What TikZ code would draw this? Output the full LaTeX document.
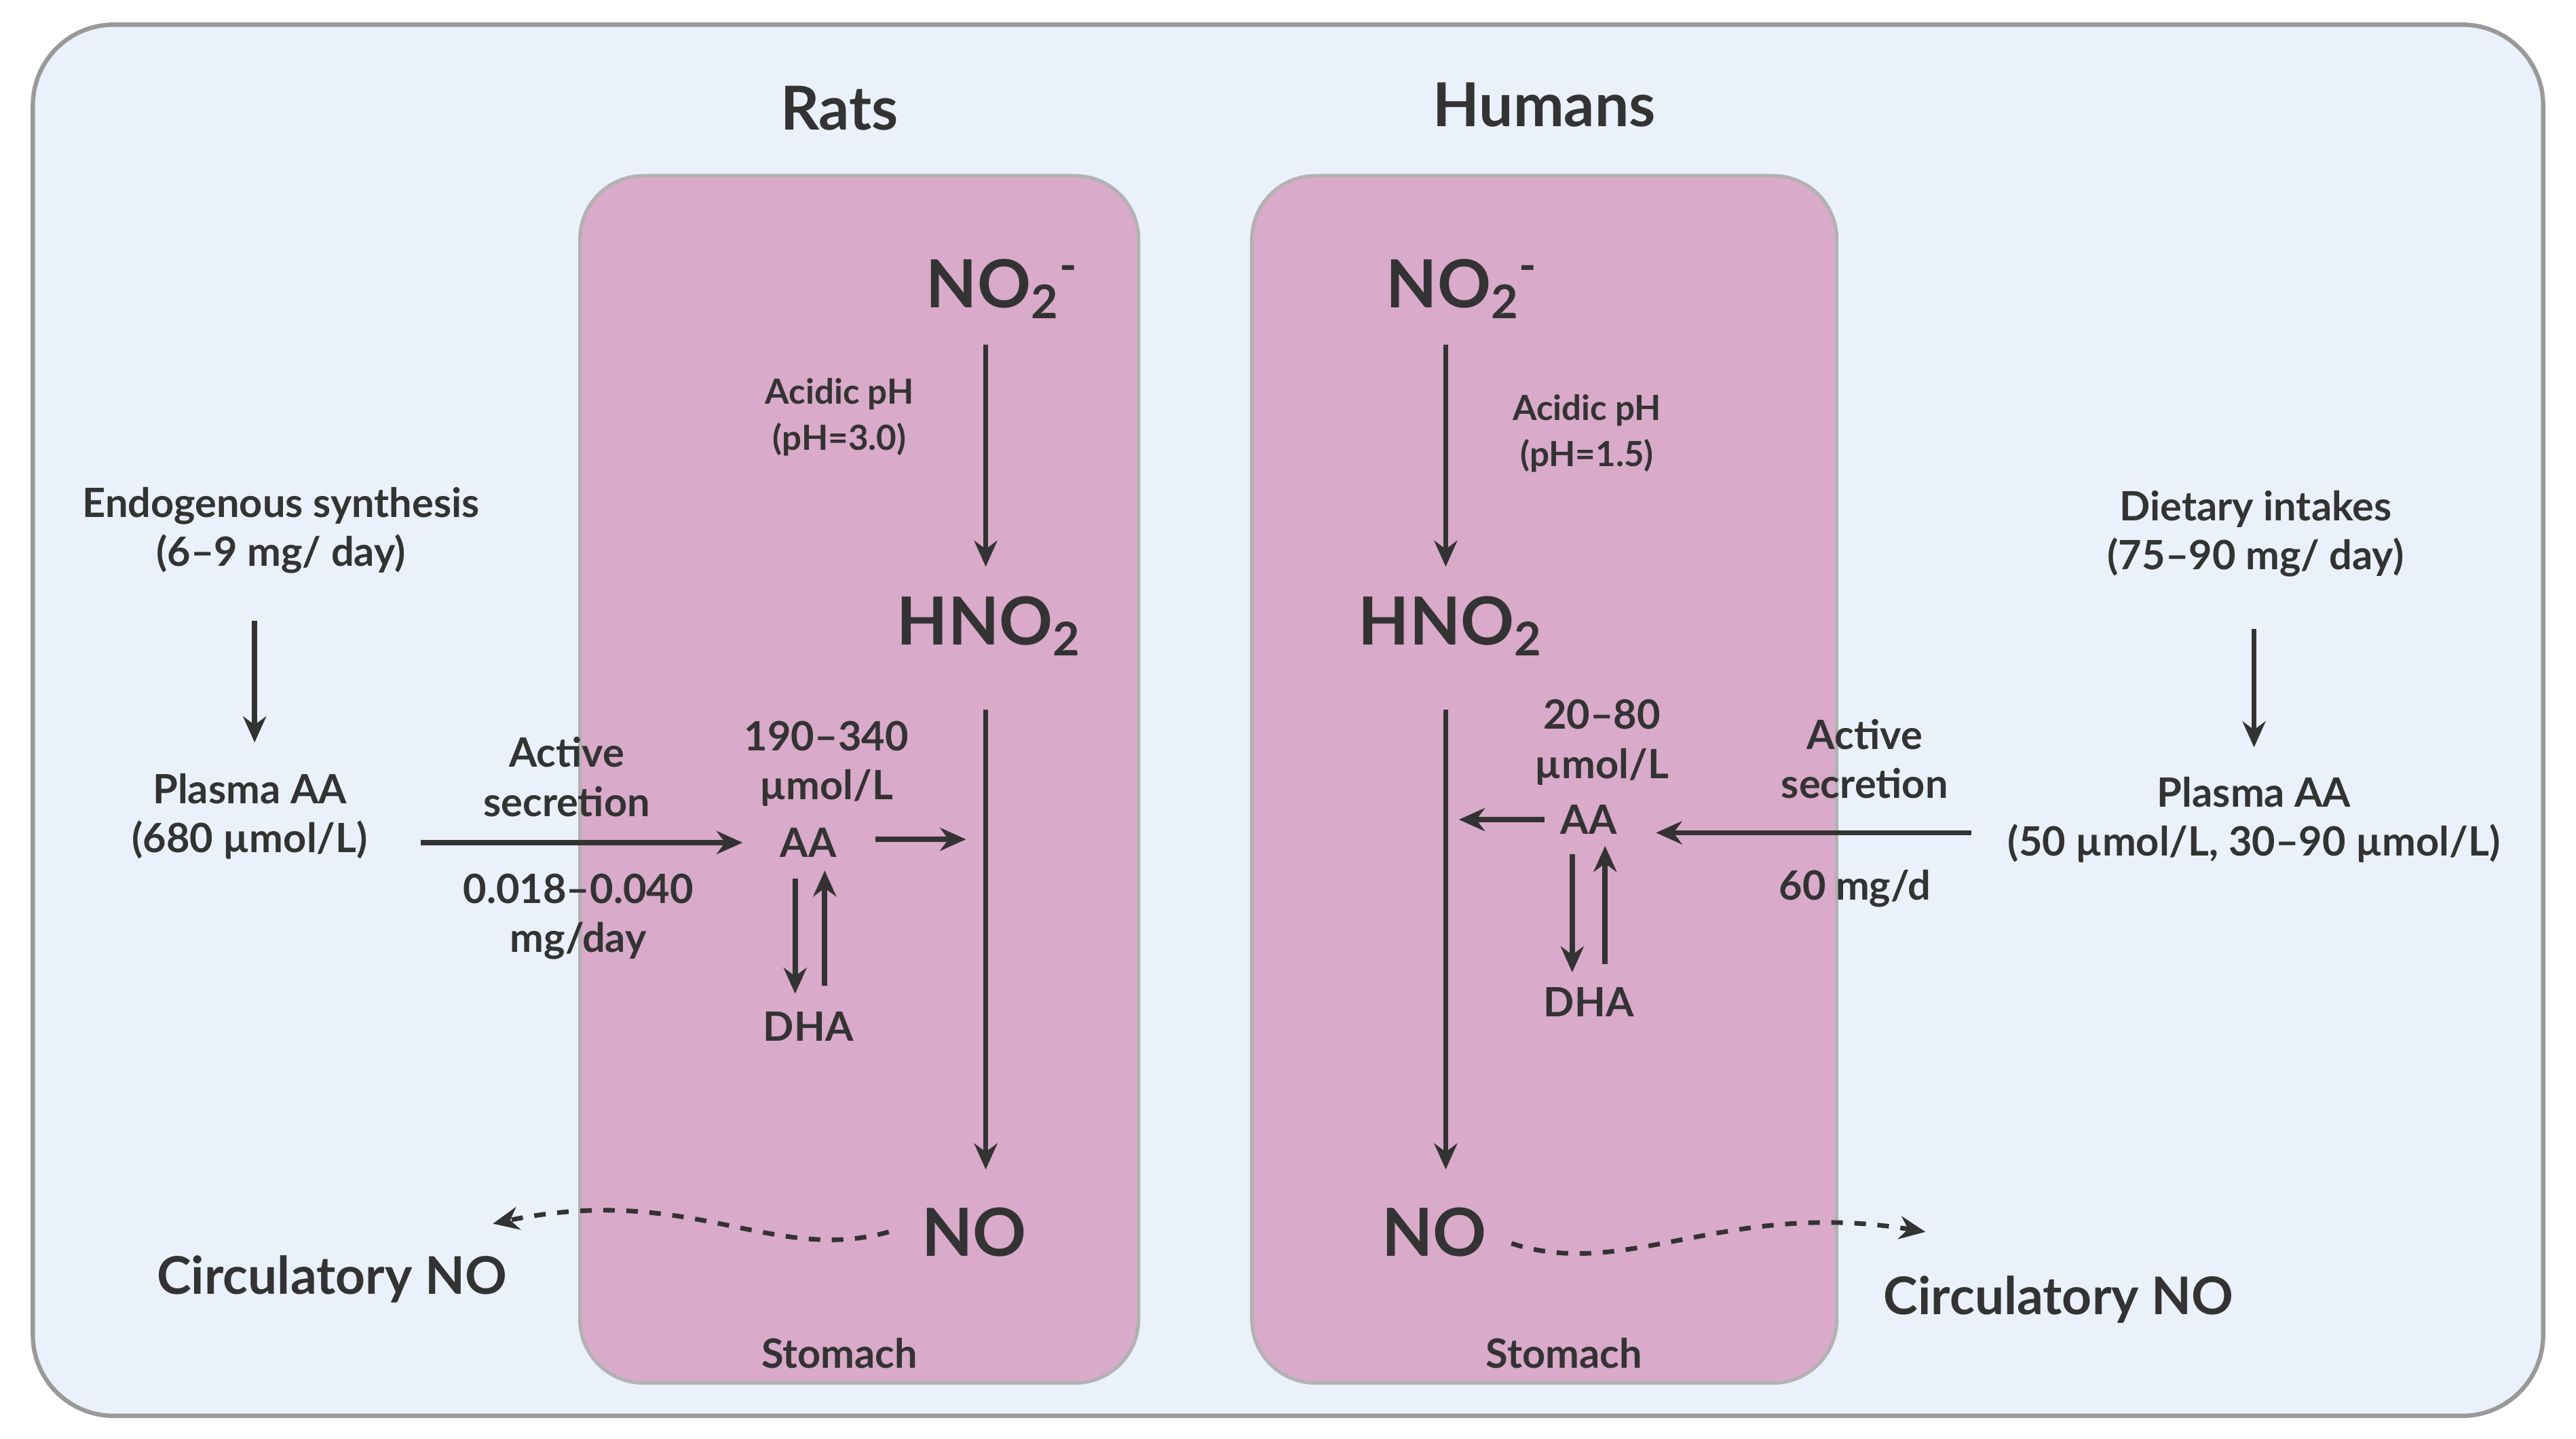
\documentclass[tikz,border=0pt]{standalone}
\usepackage{fontspec}
\setmainfont{Lato}
\usetikzlibrary{arrows.meta}
\definecolor{bg}{HTML}{EBF1FA}
\definecolor{stom}{HTML}{D9AAC9}
\definecolor{txt}{HTML}{333333}
\begin{document}
\begin{tikzpicture}[x=0.02cm,y=-0.02cm,
  t/.style={text=txt,font=\fontsize{14}{17}\selectfont\bfseries,align=center,inner sep=1pt},
  s/.style={text=txt,font=\fontsize{12}{16}\selectfont\bfseries,align=center,inner sep=1pt},
  big/.style={text=txt,font=\fontsize{23}{26}\selectfont\bfseries,inner sep=1pt},
  ttl/.style={text=txt,font=\fontsize{21}{24}\selectfont\bfseries,inner sep=1pt},
  ar/.style={draw=txt,line width=1.8pt,-{Stealth[length=9pt,width=8pt]}},
  da/.style={draw=txt,line width=1.6pt,dash pattern=on 4pt off 4pt,-{Stealth[length=9pt,width=8pt]}}]
\useasboundingbox (0,0) rectangle (1568,876);
\draw[fill=bg,draw=gray!80,line width=1.5pt,rounded corners=28pt] (20,15) rectangle (1548,862);
\draw[fill=stom,draw=gray!60,line width=1.2pt,rounded corners=22pt] (353,107) rectangle (693,842);
\draw[fill=stom,draw=gray!60,line width=1.2pt,rounded corners=22pt] (762,107) rectangle (1118,842);
% titles
\node[ttl] (rats) at (511,66) {Rats};
\node[ttl] (hum) at (940,64) {Humans};
% rats
\node[big] (no2L) at (610,176) {NO\textsubscript{2}\textsuperscript{-}};
\node[big] (hno2L) at (602,381) {HNO\textsubscript{2}};
\node[big] (noL) at (593,750) {NO};
\node[t] (stL) at (511,824) {Stomach};
\node[s] (phL) at (511,254) {Acidic pH\\(pH=3.0)};
\coordinate (a1s) at (600,210); \coordinate (a1e) at (600,345);
\draw[ar] (a1s) -- (a1e);
\coordinate (a2s) at (600,432); \coordinate (a2e) at (600,712);
\draw[ar] (a2s) -- (a2e);
\node[t] (concL) at (503,465) {190–340\\µmol/L};
\node[t] (aaL) at (492,513) {AA};
\node[t] (dhaL) at (492,625) {DHA};
\draw[ar] (484,535) -- (484,605);
\draw[ar] (502,600) -- (502,530);
\coordinate (aaLe) at (588,511);
\draw[ar] (533,511) -- (aaLe);
\node[t] (plL) at (152,497) {Plasma AA\\(680 µmol/L)};
\node[t] (endo) at (171,323) {Endogenous synthesis\\(6–9 mg/ day)};
\draw[ar] (155,378) -- (155,452);
\node[t] (asL) at (345,473) {Active\\secretion};
\node[t] (rateL) at (352,558) {0.018–0.040\\mg/day};
\draw[ar] (256,513) -- (452,513);
\node[ttl,font=\fontsize{18}{21}\selectfont\bfseries] (cL) at (202,779) {Circulatory NO};
\draw[da] (541,750) .. controls (470,770) and (420,720) .. (300,745);
% humans
\node[big] (no2R) at (890,176) {NO\textsubscript{2}\textsuperscript{-}};
\node[big] (hno2R) at (883,381) {HNO\textsubscript{2}};
\node[big] (noR) at (873,750) {NO};
\node[t] (stR) at (952,824) {Stomach};
\node[s] (phR) at (966,264) {Acidic pH\\(pH=1.5)};
\draw[ar] (880,210) -- (880,345);
\draw[ar] (880,432) -- (880,712);
\node[t] (concR) at (975,452) {20–80\\µmol/L};
\node[t] (aaR) at (967,499) {AA};
\node[t] (dhaR) at (967,610) {DHA};
\draw[ar] (940,499) -- (888,499);
\draw[ar] (957,520) -- (957,592);
\draw[ar] (977,587) -- (977,515);
\node[t] (asR) at (1135,462) {Active\\secretion};
\node[t] (rateR) at (1129,541) {60 mg/d};
\draw[ar] (1200,507) -- (1008,507);
\node[t] (plR) at (1372,499) {Plasma AA\\(50 µmol/L, 30–90 µmol/L)};
\node[t] (diet) at (1373,325) {Dietary intakes\\(75–90 mg/ day)};
\draw[ar] (1372,383) -- (1372,455);
\node[ttl,font=\fontsize{18}{21}\selectfont\bfseries] (cR) at (1253,791) {Circulatory NO};
\draw[da] (920,757) .. controls (990,780) and (1050,730) .. (1172,750);
\end{tikzpicture}
\end{document}
